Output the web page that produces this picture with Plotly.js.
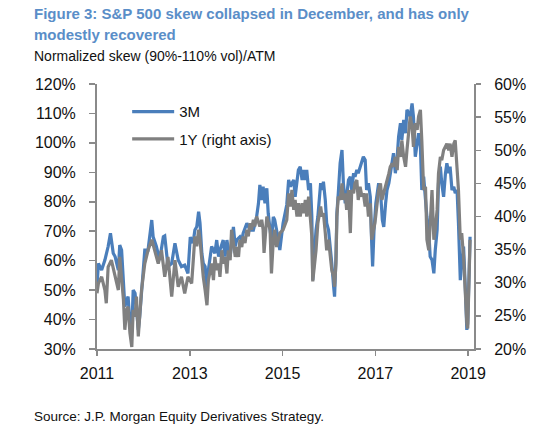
<!DOCTYPE html>
<html>
<head>
<meta charset="utf-8">
<script src="https://cdn.plot.ly/plotly-3.0.1.min.js"></script>
<style>html,body{margin:0;padding:0;background:#fff;}#chart{width:560px;height:437px;}</style>
</head>
<body>
<div id="chart"></div>
<script>
// 3M normalized skew (left axis, %)
const yr3m = [2011.00,2011.03,2011.10,2011.17,2011.24,2011.29,2011.35,2011.39,2011.46,2011.49,2011.53,2011.57,2011.60,2011.67,2011.71,2011.75,2011.78,2011.82,2011.85,2011.89,2011.92,2011.96,
2012.03,2012.10,2012.18,2012.21,2012.28,2012.35,2012.43,2012.46,2012.53,2012.61,2012.68,2012.75,2012.82,2012.89,2012.96,
2013.01,2013.07,2013.11,2013.15,2013.19,2013.22,2013.26,2013.29,2013.33,2013.37,2013.40,2013.44,2013.47,2013.54,2013.58,2013.62,2013.65,2013.72,2013.76,2013.80,2013.83,2013.87,2013.94,2013.98,
2014.01,2014.08,2014.12,2014.15,2014.23,2014.30,2014.37,2014.44,2014.48,2014.51,2014.55,2014.58,2014.62,2014.66,2014.69,2014.73,2014.76,2014.80,2014.83,2014.87,2014.91,2014.94,
2015.01,2015.09,2015.13,2015.17,2015.20,2015.24,2015.27,2015.31,2015.34,2015.38,2015.42,2015.45,2015.49,2015.52,2015.56,2015.60,2015.63,2015.65,2015.69,2015.72,2015.76,2015.79,2015.82,2015.85,2015.88,2015.92,2015.95,2015.99,
2016.03,2016.06,2016.10,2016.12,2016.15,2016.17,2016.20,2016.24,2016.28,2016.31,2016.35,2016.38,2016.42,2016.46,2016.49,2016.53,2016.56,2016.60,2016.63,2016.67,2016.71,2016.74,2016.78,2016.81,2016.85,2016.89,2016.92,2016.94,2016.97,
2017.01,2017.07,2017.11,2017.15,2017.18,2017.22,2017.25,2017.29,2017.32,2017.36,2017.39,2017.43,2017.47,2017.50,2017.54,2017.57,2017.61,2017.65,2017.68,2017.72,2017.75,2017.79,2017.82,2017.86,2017.90,2017.93,2017.97,
2018.00,2018.04,2018.08,2018.11,2018.15,2018.18,2018.22,2018.26,2018.29,2018.33,2018.36,2018.40,2018.43,2018.47,2018.51,2018.54,2018.58,2018.61,2018.65,2018.69,2018.72,2018.76,2018.79,2018.83,2018.86,2018.90,2018.94,2018.97,2018.99,
2019.02,2019.04];
const skew3m = [51.2,59.1,56.8,60.2,64.8,69.3,62.5,61.4,56.8,65.3,63.6,50.0,44.4,47.8,38.7,36.5,50.0,48.9,44.4,36.5,41.0,50.0,
63.6,63.6,73.8,68.1,64.8,60.2,68.1,68.4,58.0,59.1,65.9,60.2,58.0,58.5,55.7,
68.0,66.0,70.4,71.5,76.6,72.7,62.5,59.1,58.0,50.0,56.8,61.4,64.8,62.5,67.0,61.4,63.6,67.0,61.4,67.0,63.6,61.4,71.5,64.8,
67.0,68.1,67.0,69.3,72.7,70.4,70.4,74.9,79.5,85.7,80.6,85.1,79.5,84.6,76.1,70.4,67.0,74.9,73.8,70.4,67.0,63.6,
72.7,79.0,87.4,85.1,86.3,87.4,81.7,87.4,90.8,91.9,87.4,90.8,87.4,90.8,84.0,86.3,74.9,53.4,61.4,70.4,74.9,80.6,86.3,84.0,86.8,80.6,72.7,70.4,
64.8,59.1,51.2,47.8,61.4,76.1,82.9,93.1,97.6,86.3,79.5,81.7,87.4,88.5,84.0,89.7,88.5,90.8,89.7,91.9,94.2,95.3,94.2,84.0,86.3,81.7,65.9,58.0,70.4,
79.5,86.3,83.4,73.8,71.5,79.5,84.0,86.3,89.7,93.1,96.5,89.7,95.3,102.1,106.7,101.0,107.8,103.3,111.2,110.1,108.9,113.4,108.9,95.3,101.0,103.3,98.7,
84.0,88.5,78.3,74.9,70.4,61.4,60.2,55.7,63.6,70.4,86.3,91.9,86.3,81.7,89.7,93.1,89.7,91.9,84.0,85.1,82.9,84.0,72.7,53.4,59.1,64.8,50.0,36.5,38.7,
52.3,68.1];

// 1Y normalized skew (right axis, %)
const yr1y = [2011.00,2011.03,2011.10,2011.17,2011.20,2011.24,2011.31,2011.39,2011.46,2011.49,2011.53,2011.57,2011.60,2011.64,2011.67,2011.71,2011.75,2011.78,2011.82,2011.85,2011.89,2011.92,2011.96,
2012.03,2012.10,2012.18,2012.25,2012.32,2012.39,2012.46,2012.53,2012.61,2012.68,2012.75,2012.82,2012.89,2012.96,
2013.04,2013.08,2013.11,2013.15,2013.19,2013.22,2013.26,2013.29,2013.33,2013.37,2013.40,2013.44,2013.47,2013.51,2013.54,2013.58,2013.62,2013.65,2013.69,2013.72,2013.76,2013.80,2013.83,2013.87,2013.90,2013.94,2013.98,
2014.01,2014.05,2014.08,2014.12,2014.15,2014.19,2014.23,2014.26,2014.30,2014.33,2014.37,2014.40,2014.44,2014.48,2014.51,2014.55,2014.58,2014.60,2014.66,2014.73,2014.76,2014.80,2014.83,2014.87,2014.94,
2015.01,2015.09,2015.13,2015.17,2015.20,2015.24,2015.27,2015.31,2015.34,2015.38,2015.42,2015.45,2015.49,2015.52,2015.56,2015.60,2015.63,2015.65,2015.69,2015.72,2015.76,2015.79,2015.82,2015.85,2015.88,2015.92,2015.95,2015.99,
2016.03,2016.06,2016.10,2016.12,2016.15,2016.17,2016.20,2016.24,2016.28,2016.31,2016.35,2016.38,2016.42,2016.46,2016.49,2016.53,2016.56,2016.60,2016.63,2016.67,2016.71,2016.74,2016.78,2016.81,2016.85,2016.89,2016.92,2016.96,2016.99,
2017.07,2017.11,2017.14,2017.18,2017.22,2017.25,2017.29,2017.32,2017.36,2017.39,2017.43,2017.47,2017.50,2017.54,2017.57,2017.61,2017.65,2017.68,2017.72,2017.75,2017.79,2017.82,2017.86,2017.90,2017.93,2017.97,
2018.00,2018.04,2018.08,2018.11,2018.15,2018.18,2018.22,2018.26,2018.29,2018.33,2018.36,2018.40,2018.43,2018.47,2018.51,2018.54,2018.58,2018.61,2018.65,2018.69,2018.72,2018.76,2018.79,2018.83,2018.86,2018.90,2018.94,2018.97,2018.99,
2019.02,2019.04];
const skew1y = [28.4,29.9,30.9,28.9,26.9,32.4,33.4,30.9,28.9,33.9,30.9,27.4,22.9,25.9,26.4,22.4,20.3,25.9,24.9,27.9,21.9,24.9,28.9,
32.9,34.9,36.5,34.9,32.9,34.9,30.9,33.9,27.9,33.4,29.4,30.9,28.4,30.9,
29.9,33.9,37.0,35.5,38.0,36.5,32.9,30.9,28.9,26.6,30.4,31.9,32.9,30.4,33.9,31.9,32.9,30.9,34.9,32.9,33.9,31.4,34.9,33.4,38.0,36.0,33.9,
35.4,33.9,36.5,35.4,37.0,36.0,38.0,37.0,39.0,38.0,39.5,38.5,40.0,39.0,38.5,39.5,38.0,34.5,40.0,38.0,31.4,36.5,38.0,35.4,37.5,
38.0,39.5,43.5,41.5,44.0,41.0,42.5,40.0,42.0,40.0,42.0,40.5,42.5,40.0,43.0,40.0,37.0,30.2,32.9,34.9,39.0,40.0,41.5,40.0,40.5,37.5,34.9,36.5,
33.9,31.9,30.9,29.4,32.9,40.0,43.0,42.5,45.0,42.5,43.5,41.0,44.0,37.5,44.0,43.5,45.0,45.5,42.5,44.5,43.0,43.5,41.5,43.5,40.0,42.0,36.5,38.0,39.0,
44.0,45.0,42.5,43.5,44.5,45.5,46.5,47.5,48.0,47.5,49.0,47.0,50.5,49.0,51.5,49.0,47.5,50.0,53.6,55.1,53.6,50.5,54.1,53.1,55.1,56.1,
51.5,44.0,44.5,36.5,34.9,39.0,44.0,36.5,38.0,41.0,46.5,49.0,48.5,50.0,50.5,51.0,50.0,51.0,49.0,51.0,51.5,46.5,44.0,36.5,37.5,33.9,26.4,23.9,23.1,
31.4,36.5];

const xTickVals = [2011, 2013, 2015, 2017, 2019];
const xTickText = ['2011', '2013', '2015', '2017', '2019'];
const seriesNames = ['3M', '1Y (right axis)'];

const FONT = 'Liberation Sans, Arial, sans-serif';
const AXC = '#8a8a8a';
const TXT = '#111';

const traces = [
  {x: yr3m, y: skew3m, type: 'scatter', mode: 'lines', name: seriesNames[0],
   line: {color: '#4a7ebb', width: 3.2}, yaxis: 'y', legend: 'legend'},
  {x: yr1y, y: skew1y, type: 'scatter', mode: 'lines', name: seriesNames[1],
   line: {color: '#808080', width: 3.2}, yaxis: 'y2', legend: 'legend2'}
];

const layout = {
  width: 560, height: 437,
  margin: {l: 97, r: 86, t: 84, b: 88},
  paper_bgcolor: '#fff', plot_bgcolor: '#fff',
  font: {family: FONT, color: TXT, size: 16},
  showlegend: true,
  xaxis: {range: [2011, 2019.125], tickvals: xTickVals, ticktext: xTickText,
    showgrid: false, zeroline: false, showline: true, linecolor: AXC, linewidth: 2,
    ticks: 'outside', ticklen: 5, tickwidth: 1.5, tickcolor: AXC, ticklabelstandoff: 4,
    tickfont: {size: 16, family: FONT, color: TXT}},
  yaxis: {range: [30, 120], dtick: 10, ticksuffix: '%', showgrid: false, zeroline: false,
    showline: true, linecolor: AXC, linewidth: 2, ticks: 'outside', ticklen: 6, tickwidth: 1.5,
    tickcolor: AXC, ticklabelstandoff: 10, tickfont: {size: 16, family: FONT, color: TXT}},
  yaxis2: {range: [20, 60], dtick: 5, ticksuffix: '%', overlaying: 'y', side: 'right',
    showgrid: false, zeroline: false, showline: true, linecolor: AXC, linewidth: 2,
    ticks: 'outside', ticklen: 5, tickwidth: 1.5, tickcolor: AXC, ticklabelstandoff: 10,
    tickfont: {size: 16, family: FONT, color: TXT}},
  legend: {x: 0.08, xanchor: 'left', y: 0.895, yanchor: 'middle', bgcolor: 'rgba(0,0,0,0)',
    font: {size: 15, family: FONT, color: TXT}, itemwidth: 42},
  legend2: {x: 0.08, xanchor: 'left', y: 0.792, yanchor: 'middle', bgcolor: 'rgba(0,0,0,0)',
    font: {size: 15, family: FONT, color: TXT}, itemwidth: 42},
  annotations: [
    {text: '<b>Figure 3: S&P 500 skew collapsed in December, and has only</b>', xref: 'paper', yref: 'paper',
     x: -0.1724, y: 1.2674, xanchor: 'left', yanchor: 'middle', showarrow: false,
     font: {size: 15, family: FONT, color: '#5a8ec8'}},
    {text: '<b>modestly recovered</b>', xref: 'paper', yref: 'paper',
     x: -0.1724, y: 1.1857, xanchor: 'left', yanchor: 'middle', showarrow: false,
     font: {size: 15, family: FONT, color: '#5a8ec8'}},
    {text: 'Normalized skew (90%-110% vol)/ATM', xref: 'paper', yref: 'paper',
     x: -0.1724, y: 1.1047, xanchor: 'left', yanchor: 'middle', showarrow: false,
     font: {size: 14, family: FONT, color: TXT}},
    {text: 'Source: J.P. Morgan Equity Derivatives Strategy.', xref: 'paper', yref: 'paper',
     x: -0.1724, y: -0.2561, xanchor: 'left', yanchor: 'middle', showarrow: false,
     font: {size: 13.5, family: FONT, color: TXT}}
  ]
};

Plotly.newPlot('chart', traces, layout, {displayModeBar: false, staticPlot: true});
</script>
</body>
</html>
